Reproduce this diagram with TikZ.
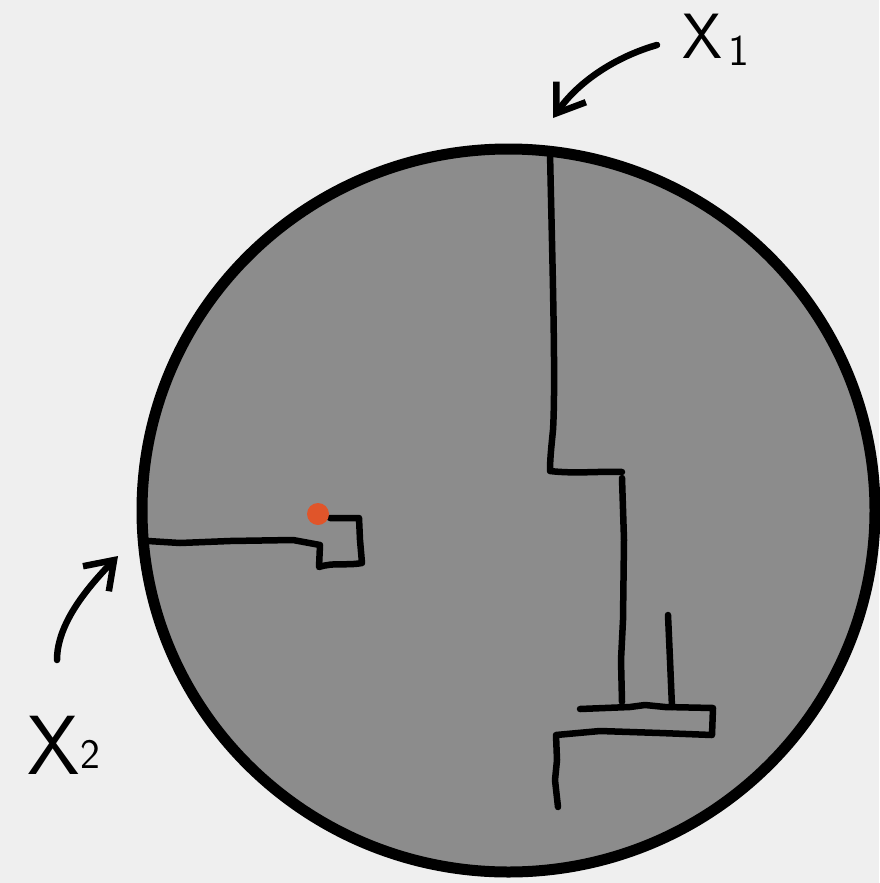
\documentclass[tikz,border=0pt]{standalone}
\usetikzlibrary{arrows.meta}
\definecolor{bgc}{HTML}{EFEFEF}
\definecolor{diskc}{HTML}{8C8C8C}
\definecolor{dotc}{HTML}{E0552A}
\tikzset{
  wall/.style={line width=6.5pt, line cap=round, line join=round, black},
  rim/.style={line width=11pt, fill=diskc, draw=black},
  pointer/.style={line width=6.5pt, line cap=round, -{Straight Barb[length=26pt,width=36pt,line width=6.5pt]}},
  lbl/.style={inner sep=0pt, font=\sffamily}
}
\begin{document}
\begin{tikzpicture}[x=1pt,y=-1pt]
\fill[bgc] (0,0) rectangle (879,883);
\useasboundingbox (0,0) rectangle (879,883);
% disk
\draw[rim] (508.5,510.5) ellipse [x radius=366.5, y radius=361.5];
% walls right side
\draw[wall] (550,152) .. controls (552,250) and (556,380) .. (553,430) .. controls (551,450) and (550,460) .. (550,471)
  .. controls (575,474) and (600,471) .. (622,472);
\draw[wall] (622,478) -- (624,540) -- (623,620) -- (621,660) -- (622,702);
\draw[wall] (580,709) -- (630,707) -- (645,705) -- (665,707) -- (713,708) -- (712,735)
  -- (660,733) -- (600,731) -- (556,735) -- (557,760) -- (555,780) -- (558,807);
\draw[wall] (668,615) -- (670,660) -- (672,707);
% left wall
\draw[wall] (148,541) -- (180,543) -- (230,541) -- (293,540) -- (320,545) -- (319,567)
  .. controls (335,562) and (345,566) .. (362,563) -- (360,540) -- (359,518) -- (330,518);
\fill[dotc] (318,514) circle (11);
% labels
\node[lbl] (x1) at (716,40) {\fontsize{64}{64}\selectfont X\hspace{6pt}\raisebox{-7pt}{\fontsize{44}{44}\selectfont 1}};
\node[lbl] (x2) at (64,745) {\fontsize{84}{84}\selectfont X\raisebox{6pt}{\fontsize{42}{42}\selectfont 2}};
\coordinate (t1) at (553,118);
\coordinate (s1) at (657,45);
\coordinate (t2) at (118,556);
\coordinate (s2) at (57,660);
\draw[pointer] (s1) .. controls (615,57) and (578,82) .. (t1);
\draw[pointer] (s2) .. controls (57,625) and (85,590) .. (t2);
\end{tikzpicture}
\end{document}
